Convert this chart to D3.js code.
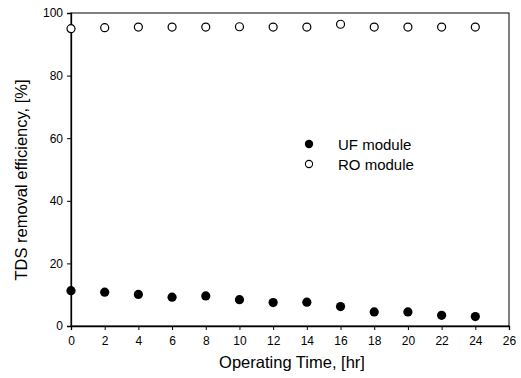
<!DOCTYPE html>
<html>
<head>
<meta charset="utf-8">
<script src="https://cdn.jsdelivr.net/npm/d3@7.9.0/dist/d3.min.js"></script>
<style>
  body { margin: 0; background: #fff; }
  svg { display: block; font-family: "Liberation Sans", Arial, sans-serif; }
</style>
</head>
<body>
<svg id="chart" width="521" height="378"></svg>
<script>
// operating time, hr
const hours = [0, 2, 4, 6, 8, 10, 12, 14, 16, 18, 20, 22, 24];
// TDS removal efficiency, %
const ufModule = [11.3, 10.8, 10.1, 9.2, 9.6, 8.4, 7.5, 7.6, 6.2, 4.5, 4.5, 3.4, 3.0];
const roModule = [95.0, 95.3, 95.5, 95.5, 95.5, 95.6, 95.5, 95.5, 96.4, 95.5, 95.5, 95.5, 95.5];
const xTicks = [0, 2, 4, 6, 8, 10, 12, 14, 16, 18, 20, 22, 24, 26];
const yTicks = [0, 20, 40, 60, 80, 100];
const seriesNames = ["UF module", "RO module"];

const svg = d3.select("#chart");
const margin = { top: 13, right: 12, bottom: 52, left: 71 };
const width = 521 - margin.left - margin.right;
const height = 378 - margin.top - margin.bottom;

const g = svg.append("g").attr("transform", `translate(${margin.left},${margin.top})`);

const x = d3.scaleLinear().domain([0, 26]).range([0, width]);
const y = d3.scaleLinear().domain([0, 100]).range([height, 0]);

// frame
g.append("rect")
  .attr("width", width).attr("height", height)
  .attr("fill", "none").attr("stroke", "#000").attr("stroke-width", 1);

const xAxis = g.append("g")
  .attr("transform", `translate(0,${height})`)
  .call(d3.axisBottom(x).tickValues(xTicks).tickSize(4).tickPadding(6));
const yAxis = g.append("g")
  .call(d3.axisLeft(y).tickValues(yTicks).tickSize(4).tickPadding(4));

[xAxis, yAxis].forEach(a => {
  a.select(".domain").attr("stroke", "#000").attr("stroke-width", 1.3);
  a.selectAll("text").attr("font-size", 12).attr("fill", "#000")
    .attr("font-family", "Liberation Sans, Arial, sans-serif");
});

// axis titles
svg.append("text")
  .attr("x", margin.left + width / 2 + 2).attr("y", 368)
  .attr("text-anchor", "middle").attr("font-size", 16.5)
  .text("Operating Time, [hr]");
svg.append("text")
  .attr("transform", "translate(27,180) rotate(-90)")
  .attr("text-anchor", "middle").attr("font-size", 16.5)
  .text("TDS removal efficiency, [%]");

// UF points (filled)
g.selectAll(".uf").data(hours).enter().append("circle")
  .attr("class", "uf")
  .attr("cx", (d, i) => x(d)).attr("cy", (d, i) => y(ufModule[i]))
  .attr("r", 4.6).attr("fill", "#000");

// RO points (open)
g.selectAll(".ro").data(hours).enter().append("circle")
  .attr("class", "ro")
  .attr("cx", (d, i) => x(d)).attr("cy", (d, i) => y(roModule[i]))
  .attr("r", 4).attr("fill", "#fff").attr("stroke", "#000").attr("stroke-width", 1.2);

// legend
const legend = svg.append("g").attr("transform", "translate(309,144)");
seriesNames.forEach((name, i) => {
  const row = legend.append("g").attr("transform", `translate(0,${i * 20})`);
  row.append("circle").attr("r", i === 0 ? 4.2 : 3.6)
    .attr("fill", i === 0 ? "#000" : "#fff")
    .attr("stroke", "#000").attr("stroke-width", i === 0 ? 0 : 1.1);
  row.append("text").attr("x", 29).attr("y", 5.5)
    .attr("font-size", 15).text(name);
});
</script>
</body>
</html>
